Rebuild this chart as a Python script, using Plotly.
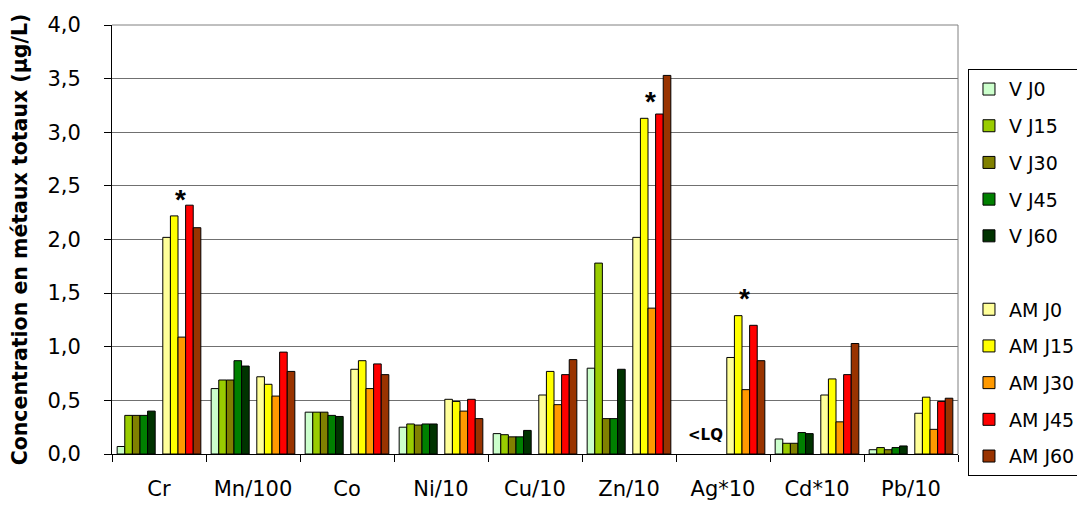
import plotly.graph_objects as go

categories = ["Cr", "Mn/100", "Co", "Ni/10", "Cu/10", "Zn/10", "Ag*10", "Cd*10", "Pb/10"]

v_j0 = [0.07, 0.61, 0.39, 0.25, 0.19, 0.80, None, 0.14, 0.04]
v_j15 = [0.36, 0.69, 0.39, 0.28, 0.18, 1.78, None, 0.10, 0.06]
v_j30 = [0.36, 0.69, 0.39, 0.27, 0.16, 0.33, None, 0.10, 0.04]
v_j45 = [0.36, 0.87, 0.36, 0.28, 0.16, 0.33, None, 0.20, 0.06]
v_j60 = [0.40, 0.82, 0.35, 0.28, 0.22, 0.79, None, 0.19, 0.075]
blank = [None] * 9
am_j0 = [2.02, 0.72, 0.79, 0.51, 0.55, 2.02, 0.90, 0.55, 0.38]
am_j15 = [2.22, 0.65, 0.87, 0.49, 0.77, 3.13, 1.29, 0.70, 0.53]
am_j30 = [1.09, 0.54, 0.61, 0.40, 0.46, 1.36, 0.60, 0.30, 0.23]
am_j45 = [2.32, 0.95, 0.84, 0.51, 0.74, 3.17, 1.20, 0.74, 0.49]
am_j60 = [2.11, 0.77, 0.74, 0.33, 0.88, 3.53, 0.87, 1.03, 0.52]

series_names = ["V J0", "V J15", "V J30", "V J45", "V J60", " ",
                "AM J0", "AM J15", "AM J30", "AM J45", "AM J60"]
series_values = [v_j0, v_j15, v_j30, v_j45, v_j60, blank,
                 am_j0, am_j15, am_j30, am_j45, am_j60]
series_colors = ["#CCFFCC", "#99CC00", "#808000", "#008000", "#003300", "rgba(0,0,0,0)",
                 "#FFFF99", "#FFFF00", "#FF9900", "#FF0000", "#993300"]

star_cats = ["Cr", "Zn/10", "Ag*10"]
star_y = [2.37, 3.29, 1.45]
lq_cat = "Ag*10"
lq_y = 0.18

FONT = "DejaVu Sans, Arial, sans-serif"
STAR_FONT = "Arial, Liberation Sans, sans-serif"

fig = go.Figure()
for i, (name, vals, col) in enumerate(zip(series_names, series_values, series_colors)):
    is_blank = name.strip() == ""
    fig.add_trace(go.Bar(
        x=categories, y=vals, name=name,
        marker=dict(color=col, line=dict(color="rgba(0,0,0,0)" if is_blank else "black",
                                         width=0 if is_blank else 1)),
        legendgroup="g%d" % i,
        hoverinfo="skip" if is_blank else None,
    ))

for c, y in zip(star_cats, star_y):
    fig.add_annotation(x=c, y=y, text="<b>*</b>", showarrow=False, xshift=21,
                       font=dict(family=STAR_FONT, size=28, color="black"))
fig.add_annotation(x=lq_cat, y=lq_y, text="<b>&lt;LQ</b>", showarrow=False, xshift=-18,
                   font=dict(family=FONT, size=15, color="black"))

# top & right plot border (gray)
fig.add_shape(type="line", xref="paper", yref="paper", x0=0, x1=1, y0=1, y1=1,
              line=dict(color="#808080", width=1))
fig.add_shape(type="line", xref="paper", yref="paper", x0=1, x1=1, y0=0, y1=1,
              line=dict(color="#808080", width=1))

fig.update_layout(
    width=1077, height=498,
    margin=dict(l=104, r=127, t=17, b=52, autoexpand=False),
    paper_bgcolor="white", plot_bgcolor="white",
    barmode="group", bargap=0.11, bargroupgap=0,
    separators=", ",
    font=dict(family=FONT, size=21, color="black"),
    showlegend=True,
    legend=dict(x=1.0118, y=0.897, xanchor="left", yanchor="top",
                xref="paper", yref="paper",
                bordercolor="black", borderwidth=1, bgcolor="white",
                font=dict(family=FONT, size=19, color="black"),
                tracegroupgap=9, traceorder="grouped"),
    xaxis=dict(type="category", showline=True, linecolor="black", linewidth=1,
               ticks="outside", tickson="boundaries", ticklen=7, tickcolor="black",
               ticklabelstandoff=16,
               tickfont=dict(family=FONT, size=21, color="black"), showgrid=False,
               zeroline=False),
    yaxis=dict(range=[0, 4], dtick=0.5, tick0=0, tickformat=".1f",
               showline=True, linecolor="black", linewidth=1,
               ticks="outside", ticklen=7, tickcolor="black",
               ticklabelstandoff=19,
               tickfont=dict(family=FONT, size=21, color="black"),
               showgrid=True, gridcolor="#707070", gridwidth=1, zeroline=False,
               title=dict(text="<b>Concentration en métaux totaux (µg/L)</b>",
                          font=dict(family=FONT, size=20.5, color="black"), standoff=20)),
)

fig.write_html("out.html")
